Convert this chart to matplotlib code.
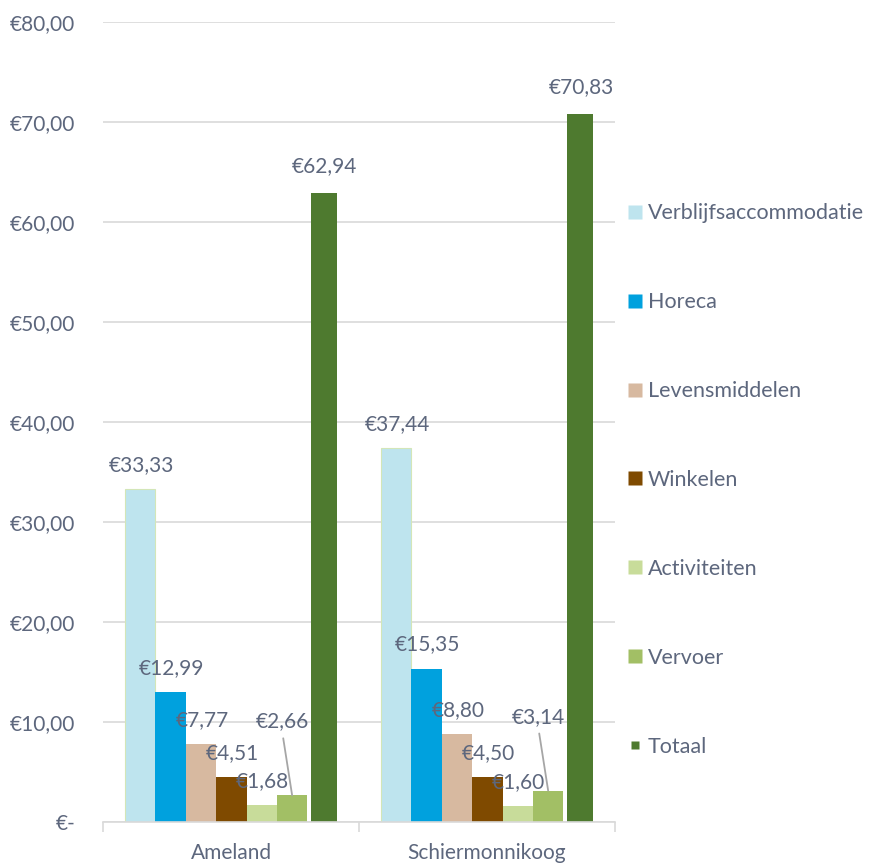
import numpy as np
import matplotlib.pyplot as plt
from matplotlib.lines import Line2D

# data
islands = ['Ameland', 'Schiermonnikoog']
series = ['Verblijfsaccommodatie', 'Horeca', 'Levensmiddelen', 'Winkelen',
          'Activiteiten', 'Vervoer']
verblijf = [33.33, 37.44]
horeca = [12.99, 15.35]
levensmiddelen = [7.77, 8.80]
winkelen = [4.51, 4.50]
activiteiten = [1.68, 1.60]
vervoer = [2.66, 3.14]
totaal = [62.94, 70.83]

colors = ['#bee4ee', '#00a1de', '#d7b9a0', '#7f4a00', '#c8dc9a', '#a2bf65']
tot_color = '#4e7a2f'
txt = '#5d677d'
grid = '#d9d9d9'

plt.rcParams['font.family'] = ['Lato', 'DejaVu Sans']

fig = plt.figure(figsize=(8.71, 8.67), dpi=100)
ax = fig.add_axes([103/871, 45/867, 512/871, 800/867])

x = np.arange(len(islands))
w = 0.1187
start = -0.414
values = [verblijf, horeca, levensmiddelen, winkelen, activiteiten, vervoer]

def fmt(v):
    return ('€%.2f' % v).replace('.', ',')

for i, vals in enumerate(values):
    xs = x + start + w * i + w / 2
    ax.bar(xs, vals, w, color=colors[i], zorder=3,
           edgecolor='#d3e6b8' if i == 0 else 'none', linewidth=0.8)
    for xi, v in zip(xs, vals):
        if i == 5:
            ax.annotate(fmt(v), (xi, v), xytext=(-10, 74), textcoords='offset pixels',
                        ha='center', va='center', color=txt, fontsize=15,
                        arrowprops=dict(arrowstyle='-', color='#a6a6a6', lw=1.3,
                                        shrinkA=3, shrinkB=0, relpos=(0.5, 0.0)))
        else:
            ax.annotate(fmt(v), (xi, v), xytext=(1, 24), textcoords='offset pixels',
                        ha='center', va='center', color=txt, fontsize=15)

xt = x + 0.363
ax.bar(xt, totaal, 0.1016, color=tot_color, zorder=3)
for xi, v in zip(xt, totaal):
    ax.annotate(fmt(v), (xi, v), xytext=(1, 27), textcoords='offset pixels',
                ha='center', va='center', color=txt, fontsize=15)

ax.set_xlim(-0.5, 1.5)
ax.set_ylim(0, 80)
ax.set_yticks(np.arange(0, 81, 10))
ax.set_yticklabels(['€-'] + [fmt(v) for v in np.arange(10, 81, 10)])
ax.set_xticks(x)
ax.set_xticklabels(islands)
ax.set_xticks([-0.5, 0.5, 1.5], minor=True)
ax.tick_params(axis='x', which='major', length=0, pad=15, labelsize=15, labelcolor=txt)
ax.tick_params(axis='x', which='minor', length=7, color=grid, width=1.2)
ax.tick_params(axis='y', length=0, pad=20, labelsize=15, labelcolor=txt)
ax.grid(axis='y', color=grid, lw=1.2, zorder=0)
for s in ['left', 'right', 'top']:
    ax.spines[s].set_visible(False)
ax.spines['bottom'].set_color(grid)
ax.spines['bottom'].set_linewidth(1.2)
ax.spines['bottom'].set_zorder(4)

handles = [Line2D([], [], marker='s', linestyle='none', markersize=10,
                  markerfacecolor=c, markeredgecolor='none') for c in colors]
handles.append(Line2D([], [], marker='s', linestyle='none', markersize=6,
                      markerfacecolor=tot_color, markeredgecolor='none'))
leg = fig.legend(handles, series + ['Totaal'], loc='center left',
                 bbox_to_anchor=(607/871, 1 - 480/867), frameon=False,
                 fontsize=15.5, labelspacing=3.2, handlelength=0.8,
                 handletextpad=0.2, labelcolor=txt)

fig.savefig('out.png', dpi=100)
